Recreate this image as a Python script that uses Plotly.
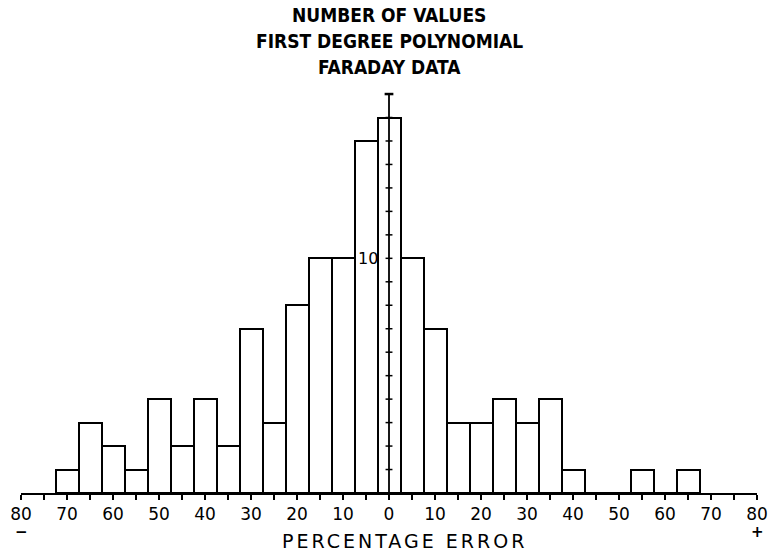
import plotly.graph_objects as go

# Bin centres (percentage error, bins of width 5) and counts
bin_centers = [-70, -65, -60, -55, -50, -45, -40, -35, -30, -25, -20, -15, -10, -5,
               0, 5, 10, 15, 20, 25, 30, 35, 40, 45, 50, 55, 60, 65]
counts = [1, 3, 2, 1, 4, 2, 4, 2, 7, 3, 8, 10, 10, 15,
          16, 10, 7, 3, 3, 4, 3, 4, 1, 0, 0, 1, 0, 1]
bin_width = 5

x_tickvals = list(range(-80, 81, 5))
x_ticktext = [str(abs(v)) if v % 10 == 0 else "" for v in x_tickvals]
y_ticks = list(range(1, 17))
y_top = 17
y_label_value = 10

title_lines = ["NUMBER OF VALUES", "FIRST DEGREE POLYNOMIAL", "FARADAY DATA"]
x_title = "PERCENTAGE ERROR"

TITLE_FONT = "Liberation Sans Narrow, DejaVu Sans Condensed, Arial Narrow, sans-serif"
LABEL_FONT = "DejaVu Sans, Verdana, sans-serif"

fig = go.Figure()
fig.add_trace(go.Bar(
    x=bin_centers, y=counts, width=bin_width,
    marker=dict(color="white", line=dict(color="black", width=2)),
    showlegend=False, hoverinfo="x+y",
))

shapes = []
# vertical centre axis with crossing ticks
shapes.append(dict(type="line", xref="x", yref="y", x0=0, x1=0, y0=0, y1=y_top,
                   line=dict(color="black", width=1.8)))
for t in y_ticks:
    shapes.append(dict(type="line", xref="x", yref="y", x0=-0.75, x1=0.75, y0=t, y1=t,
                       line=dict(color="black", width=1.5)))
shapes.append(dict(type="line", xref="x", yref="y", x0=-0.95, x1=0.95, y0=y_top, y1=y_top,
                   line=dict(color="black", width=2.5)))

annotations = []
title_y = [1.1773, 1.1145, 1.0493]
for txt, yy in zip(title_lines, title_y):
    annotations.append(dict(text="<b>" + txt + "</b>", x=0.5, y=yy, xref="paper", yref="paper",
                            showarrow=False, xanchor="center", yanchor="middle",
                            font=dict(family=TITLE_FONT, size=19, color="black")))
annotations.append(dict(text='<span style="letter-spacing:3px">' + x_title + "</span>",
                        x=0.521, y=-0.118, xref="paper", yref="paper",
                        showarrow=False, xanchor="center", yanchor="middle",
                        font=dict(family=LABEL_FONT, size=19, color="black")))
annotations.append(dict(text=str(y_label_value), x=0, y=y_label_value, xref="x", yref="y",
                        showarrow=False, xanchor="right", yanchor="middle", xshift=-9,
                        font=dict(family=LABEL_FONT, size=16, color="black")))
annotations.append(dict(text="<b>−</b>", x=-80, y=-0.097, xref="x", yref="paper",
                        showarrow=False, xanchor="center", yanchor="middle",
                        font=dict(family=LABEL_FONT, size=15, color="black")))
annotations.append(dict(text="<b>+</b>", x=80, y=-0.097, xref="x", yref="paper",
                        showarrow=False, xanchor="center", yanchor="middle",
                        font=dict(family=LABEL_FONT, size=15, color="black")))

fig.update_layout(
    width=772, height=557,
    margin=dict(l=21, r=15, t=87, b=64, autoexpand=False),
    paper_bgcolor="white", plot_bgcolor="white",
    bargap=0,
    shapes=shapes,
    annotations=annotations,
    xaxis=dict(range=[-80, 80], tickmode="array", tickvals=x_tickvals, ticktext=x_ticktext,
               automargin=False,
               showline=True, linecolor="black", linewidth=2,
               ticks="outside", ticklen=5, tickwidth=1.5, tickcolor="black",
               showgrid=False, zeroline=False,
               tickfont=dict(family=LABEL_FONT, size=17, color="black")),
    yaxis=dict(range=[0, 17.3], visible=False, showgrid=False, zeroline=False,
               automargin=False),
)

# remove the default page margin so the figure sits at the window's top-left corner
fig.write_html("out.html", config={"displayModeBar": False},
               post_script="document.body.style.margin='0';")
